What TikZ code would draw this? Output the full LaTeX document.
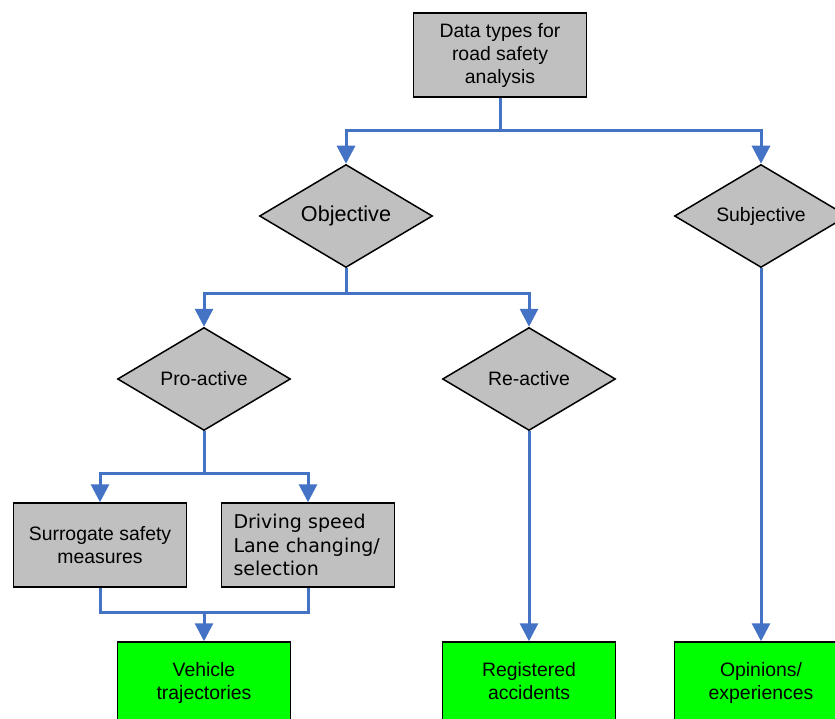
\documentclass[tikz,border=0pt]{standalone}
\usepackage{fontspec}
\setmainfont{Liberation Sans}
\newfontfamily\verdanafont{DejaVu Sans}
\usetikzlibrary{positioning,shapes.geometric,arrows.meta}
\definecolor{linkblue}{HTML}{4472C4}
\definecolor{boxgray}{HTML}{C0C0C0}
\definecolor{boxgreen}{HTML}{00FF00}
\tikzset{x=1pt, y=1pt, on grid, >={Triangle[width=18pt,length=18pt]},
  box/.style={draw, line width=1.5pt, fill=boxgray, minimum width=173pt, minimum height=84pt, align=center, font=\fontsize{19.4}{23}\selectfont},
  decision/.style={diamond, draw, line width=1.5pt, fill=boxgray, minimum width=173pt, minimum height=103pt, aspect=1.68, inner sep=0pt, font=\fontsize{19.4}{23}\selectfont},
  result/.style={box, fill=boxgreen},
  link/.style={draw=linkblue, line width=3pt}}

\begin{document}
\begin{tikzpicture}
			\useasboundingbox (0,0) rectangle (835,-719);
			\node (D) [box] at (500,-55) {Data types for\\road safety\\analysis};
			\node (O) [decision, below left=161pt and 154pt of D, font=\fontsize{21.6}{26}\selectfont] {Objective};
			\node (S) [decision, right=415pt of O] {Subjective};
			\node (P) [decision, below left=163pt and 142pt of O] {Pro-active};
			\node (R) [decision, right=325pt of P] {Re-active};
			\node (SM) [box, below left=166pt and 104pt of P] {Surrogate safety\\measures};
			\node (DS) [box, right=208pt of SM, align=left, text width=149pt, inner xsep=12pt, font=\verdanafont\fontsize{19}{23.5}\selectfont] {Driving speed\\Lane changing/\\selection};
			\node (VT) [result, below=305pt of P] {Vehicle\\trajectories\strut};
			\node (RA) [result, right=325pt of VT] {Registered\\accidents\strut};
			\node (OE) [result, right=557pt of VT] {Opinions/\\experiences\strut};
			\coordinate[below=33pt of D.south] (J1);
			\coordinate[below=25pt of O.south] (J2);
			\coordinate[below=42pt of P.south] (J3);
			\coordinate[above=29pt of VT.north] (J4);
			\path[link] (D.south) -- (J1);
			\path[link,->] (J1) -| (O.north);
			\path[link,->] (J1) -| (S.north);
			\path[link] (O.south) -- (J2);
			\path[link,->] (J2) -| (P.north);
			\path[link,->] (J2) -| (R.north);
			\path[link] (P.south) -- (J3);
			\path[link,->] (J3) -| (SM.north);
			\path[link,->] (J3) -| (DS.north);
			\path[link] (SM.south) |- (J4) -| (DS.south);
			\path[link,->] (J4) -- (VT.north);
			\path[link,->] (R.south) -- (RA.north);
			\path[link,->] (S.south) -- (OE.north);
		\end{tikzpicture}
\end{document}
